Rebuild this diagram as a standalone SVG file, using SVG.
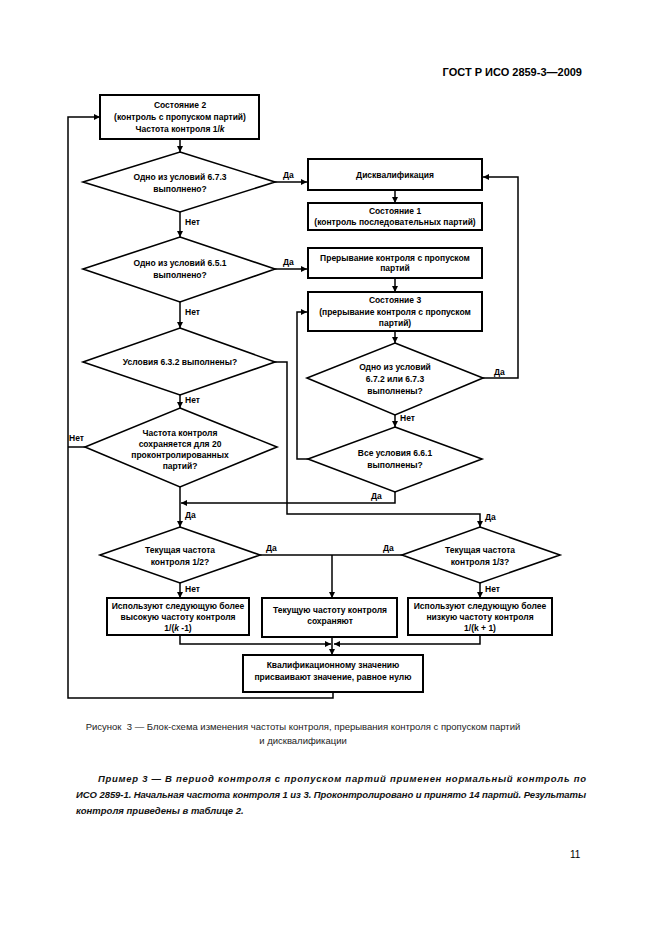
<svg xmlns="http://www.w3.org/2000/svg" width="661" height="936" viewBox="0 0 661 936">
<style>
.bg{fill:#fff}
.box{fill:#fff;stroke:#000;stroke-width:2}
.dia{fill:#fff;stroke:#000;stroke-width:1.6}
.ln{fill:none;stroke:#000;stroke-width:1.5}
.t{font-family:"Liberation Sans",Arial,sans-serif;font-weight:bold;font-size:8.5px;fill:#000;text-anchor:middle}
.lb{font-family:"Liberation Sans",Arial,sans-serif;font-weight:bold;font-size:8.5px;fill:#000}
.cap{font-family:"Liberation Sans",Arial,sans-serif;font-size:9.5px;fill:#222;text-anchor:middle}
.ex{font-family:"Liberation Sans",Arial,sans-serif;font-size:9.5px;font-weight:bold;font-style:italic;fill:#111}
.hd{font-family:"Liberation Sans",Arial,sans-serif;font-size:11px;font-weight:bold;fill:#000}
.pg{font-family:"Liberation Sans",Arial,sans-serif;font-size:10px;fill:#000}
</style>
<defs>
<marker id="ar" markerUnits="userSpaceOnUse" markerWidth="7" markerHeight="6" refX="6" refY="3" orient="auto">
<path d="M0,0 L6,3 L0,6 Z" fill="#000"/>
</marker>
</defs>
<rect class="bg" x="0" y="0" width="661" height="936"/>
<text class="hd" x="582" y="76" text-anchor="end">ГОСТ Р ИСО 2859-3—2009</text>

<g id="connectors">
<path class="ln" d="M180,139 V152" marker-end="url(#ar)"/>
<path class="ln" d="M275,182 H307" marker-end="url(#ar)"/>
<path class="ln" d="M180,212 V237" marker-end="url(#ar)"/>
<path class="ln" d="M395,190 V203" marker-end="url(#ar)"/>
<path class="ln" d="M275,269 H307" marker-end="url(#ar)"/>
<path class="ln" d="M180,302 V328" marker-end="url(#ar)"/>
<path class="ln" d="M395,278 V292" marker-end="url(#ar)"/>
<path class="ln" d="M395,331 V343" marker-end="url(#ar)"/>
<path class="ln" d="M395,415 V427" marker-end="url(#ar)"/>
<path class="ln" d="M483,378 H518 V177 H483" marker-end="url(#ar)"/>
<path class="ln" d="M308,459 H297 V312 H307" marker-end="url(#ar)"/>
<path class="ln" d="M180,395 V408" marker-end="url(#ar)"/>
<path class="ln" d="M395,492 V503 H181" marker-end="url(#ar)"/>
<path class="ln" d="M275,362 H287 V514 H480 V527" marker-end="url(#ar)"/>
<path class="ln" d="M180,487 V527" marker-end="url(#ar)"/>
<path class="ln" d="M85,447 H68"/>
<path class="ln" d="M260,555 H402"/>
<path class="ln" d="M332,555 V598" marker-end="url(#ar)"/>
<path class="ln" d="M180,583 V598" marker-end="url(#ar)"/>
<path class="ln" d="M480,583 V598" marker-end="url(#ar)"/>
<path class="ln" d="M180,635 V644 H331" marker-end="url(#ar)"/>
<path class="ln" d="M480,635 V644 H334" marker-end="url(#ar)"/>
<path class="ln" d="M332,637 V655" marker-end="url(#ar)"/>
<path class="ln" d="M333,692 V698 H68 V117 H100" marker-end="url(#ar)"/>
</g>

<g id="labels">
<text class="lb" x="185" y="225">Нет</text>
<text class="lb" x="283" y="178">Да</text>
<text class="lb" x="283" y="265">Да</text>
<text class="lb" x="185" y="315">Нет</text>
<text class="lb" x="185" y="403">Нет</text>
<text class="lb" x="69" y="441">Нет</text>
<text class="lb" x="494" y="375">Да</text>
<text class="lb" x="400" y="421">Нет</text>
<text class="lb" x="371" y="499">Да</text>
<text class="lb" x="185" y="518">Да</text>
<text class="lb" x="485" y="520">Да</text>
<text class="lb" x="266" y="551">Да</text>
<text class="lb" x="383" y="551">Да</text>
<text class="lb" x="185" y="592">Нет</text>
<text class="lb" x="485" y="592">Нет</text>
</g>

<g id="state2">
<rect class="box" x="100" y="95" width="159" height="44"/>
<text class="t" x="180" y="108">Состояние 2</text>
<text class="t" x="180" y="120">(контроль с пропуском партий)</text>
<text class="t" x="180" y="132">Частота контроля 1/<tspan font-style="italic">k</tspan></text>
</g>

<g id="d1">
<polygon class="dia" points="180,152 275,182 180,212 83,182"/>
<text class="t" x="180" y="180">Одно из условий 6.7.3</text>
<text class="t" x="180" y="192">выполнено?</text>
</g>

<g id="disq">
<rect class="box" x="308" y="159" width="174" height="31"/>
<text class="t" x="395" y="178">Дисквалификация</text>
</g>

<g id="state1">
<rect class="box" x="308" y="203" width="174" height="27"/>
<text class="t" x="395" y="214">Состояние 1</text>
<text class="t" x="395" y="225">(контроль последовательных партий)</text>
</g>

<g id="d2">
<polygon class="dia" points="180,237 275,269 180,302 83,269"/>
<text class="t" x="180" y="266">Одно из условий 6.5.1</text>
<text class="t" x="180" y="278">выполнено?</text>
</g>

<g id="interrupt">
<rect class="box" x="308" y="248" width="174" height="30"/>
<text class="t" x="395" y="261">Прерывание контроля с пропуском</text>
<text class="t" x="395" y="271">партий</text>
</g>

<g id="state3">
<rect class="box" x="308" y="292" width="174" height="39"/>
<text class="t" x="395" y="303">Состояние 3</text>
<text class="t" x="395" y="315">(прерывание контроля с пропуском</text>
<text class="t" x="395" y="326">партий)</text>
</g>

<g id="d3">
<polygon class="dia" points="180,328 275,362 180,395 83,362"/>
<text class="t" x="180" y="365">Условия 6.3.2 выполнены?</text>
</g>

<g id="d6">
<polygon class="dia" points="395,343 483,378 395,415 307,378"/>
<text class="t" x="395" y="370">Одно из условий</text>
<text class="t" x="395" y="382">6.7.2 или 6.7.3</text>
<text class="t" x="395" y="394">выполнены?</text>
</g>

<g id="d4">
<polygon class="dia" points="180,408 277,447 180,487 85,447"/>
<text class="t" x="180" y="436">Частота контроля</text>
<text class="t" x="180" y="447">сохраняется для 20</text>
<text class="t" x="180" y="458">проконтролированных</text>
<text class="t" x="180" y="469">партий?</text>
</g>

<g id="d7">
<polygon class="dia" points="395,427 482,459 395,492 308,459"/>
<text class="t" x="395" y="456">Все условия 6.6.1</text>
<text class="t" x="395" y="468">выполнены?</text>
</g>

<g id="d5">
<polygon class="dia" points="180,527 260,555 180,583 100,555"/>
<text class="t" x="180" y="553">Текущая частота</text>
<text class="t" x="180" y="565">контроля 1/2?</text>
</g>

<g id="d8">
<polygon class="dia" points="480,527 560,555 480,583 402,555"/>
<text class="t" x="480" y="553">Текущая частота</text>
<text class="t" x="480" y="565">контроля 1/3?</text>
</g>

<g id="higher">
<rect class="box" x="107" y="598" width="142" height="37"/>
<text class="t" x="178" y="609">Используют следующую более</text>
<text class="t" x="178" y="620">высокую частоту контроля</text>
<text class="t" x="178" y="631">1/(<tspan font-style="italic">k</tspan> -1)</text>
</g>

<g id="keep">
<rect class="box" x="262" y="598" width="135" height="39"/>
<text class="t" x="330" y="613">Текущую частоту контроля</text>
<text class="t" x="330" y="624">сохраняют</text>
</g>

<g id="lower">
<rect class="box" x="408" y="598" width="144" height="37"/>
<text class="t" x="480" y="609">Используют следующую более</text>
<text class="t" x="480" y="620">низкую частоту контроля</text>
<text class="t" x="480" y="631">1/(k + 1)</text>
</g>

<g id="zero">
<rect class="box" x="243" y="655" width="180" height="37"/>
<text class="t" x="333" y="668">Квалификационному значению</text>
<text class="t" x="333" y="680">присваивают значение, равное нулю</text>
</g>

<text class="cap" x="303" y="730">Рисунок&#160; 3 — Блок-схема изменения частоты контроля, прерывания контроля с пропуском партий</text>
<text class="cap" x="303" y="744">и дисквалификации</text>

<text class="ex" x="98" y="782" textLength="488" lengthAdjust="spacing">Пример 3 — В период контроля с пропуском партий применен нормальный контроль по</text>
<text class="ex" x="76" y="798" textLength="510" lengthAdjust="spacing">ИСО 2859-1. Начальная частота контроля 1 из 3. Проконтролировано и принято 14 партий. Результаты</text>
<text class="ex" x="76" y="814">контроля приведены в таблице 2.</text>

<text class="pg" x="570" y="858">11</text>
</svg>
